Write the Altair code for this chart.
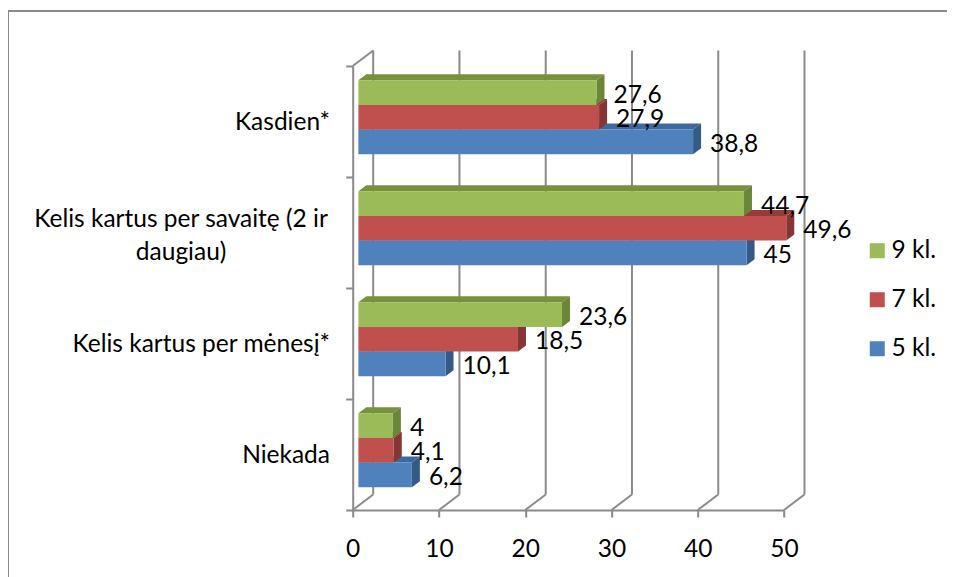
import altair as alt
import pandas as pd

FONT = "Lato"
FS = 24.5
categories = ["Niekada", "Kelis kartus per mėnesį*", "Kelis kartus per savaitę (2 ir\ndaugiau)", "Kasdien*"]
series = ["5 kl.", "7 kl.", "9 kl."]
v5 = [6.2, 10.1, 45, 38.8]
v7 = [4.1, 18.5, 49.6, 27.9]
v9 = [4, 23.6, 44.7, 27.6]
front = ["#4F81BD", "#C0504D", "#9BBB59"]
top_c = ["#3C6A9F", "#963C3A", "#76923C"]
side_c = ["#345A86", "#853634", "#6B8539"]
ticks = [0, 10, 20, 30, 40, 50]
GRID = "#8A8A8A"

PXX = 431.3 / 50
PXY = 111.0
bar_start = 5.7 / PXX
bar_h = 24.7 / PXY
bar_base = 22.7 / PXY
dx = 8 / PXX
dy = 6 / PXY
wall_dx = 20.5 / PXX
wall_dy = 15.5 / PXY

xs = alt.Scale(domain=[0, 50], nice=False, zero=False)
ys = alt.Scale(domain=[0, 4], nice=False, zero=False)
x_axis = alt.Axis(
    values=ticks, grid=False, domainColor=GRID, domainWidth=2, tickColor=GRID,
    tickWidth=2, tickSize=7, labelFontSize=FS, labelFont=FONT, labelColor="#000000",
    labelPadding=20, labelFlush=False, labelOverlap=False, title=None)
y_axis = alt.Axis(
    values=[0, 1, 2, 3, 4], grid=False, labels=False, domainColor=GRID, domainWidth=2,
    tickColor=GRID, tickWidth=2, tickSize=7, title=None)
X = lambda f: alt.X(f, type="quantitative", scale=xs, axis=x_axis)
Y = lambda f: alt.Y(f, type="quantitative", scale=ys, axis=y_axis, stack=None)

layers = []

# walls: diagonals and back gridlines
wall = pd.DataFrame({"x": ticks})
wall["xb"] = wall.x + wall_dx
wall["y0"] = 0.0
wall["yb"] = wall_dy
wall["ytop"] = 4 + wall_dy
layers.append(alt.Chart(wall).mark_rule(color=GRID, strokeWidth=2).encode(
    x=X("x"), x2="xb", y=Y("y0"), y2="yb"))
layers.append(alt.Chart(wall).mark_rule(color=GRID, strokeWidth=2).encode(
    x=X("xb"), y=Y("yb"), y2="ytop"))
corner = pd.DataFrame({"x": [0.0], "xb": [wall_dx], "y": [4.0], "yb": [4 + wall_dy]})
layers.append(alt.Chart(corner).mark_rule(color=GRID, strokeWidth=2).encode(
    x=X("x"), x2="xb", y=Y("y"), y2="yb"))

# bars, bottom series first so the upper one overlaps it
label_rows = []
for s, (name, vals) in enumerate(zip(series, [v5, v7, v9])):
    tops, sides, fronts = [], [], []
    for c, v in enumerate(vals):
        x0 = bar_start
        x1 = bar_start + v
        lo = c + bar_base + s * bar_h
        hi = lo + bar_h
        fronts.append({"series": name, "x0": x0, "x1": x1, "lo": lo, "hi": hi})
        sides += [
            {"c": c, "x": x1, "u": hi, "l": lo},
            {"c": c, "x": x1 + dx, "u": hi + dy, "l": lo + dy},
        ]
        tops += [
            {"c": c, "x": x0, "u": hi, "l": hi},
            {"c": c, "x": x0 + dx, "u": hi + dy, "l": hi},
            {"c": c, "x": x1, "u": hi + dy, "l": hi},
            {"c": c, "x": x1 + dx, "u": hi + dy, "l": hi + dy},
        ]
        label_rows.append({"x": x1, "y": (lo + hi) / 2, "t": str(v).replace(".", ",")})
    layers.append(alt.Chart(pd.DataFrame(tops)).mark_area(orient="vertical", color=top_c[s], interpolate="linear").encode(
        x=X("x"), y=Y("u"), y2="l", detail="c:N"))
    layers.append(alt.Chart(pd.DataFrame(sides)).mark_area(orient="vertical", color=side_c[s], interpolate="linear").encode(
        x=X("x"), y=Y("u"), y2="l", detail="c:N"))
    layers.append(alt.Chart(pd.DataFrame(fronts)).mark_rect().encode(
        x=X("x0"), x2="x1", y=Y("lo"), y2="hi",
        color=alt.Color("series:N", scale=alt.Scale(domain=series[::-1], range=front[::-1]),
                        legend=alt.Legend(
                            orient="none", legendX=865 - 352.7, legendY=238.5 - 66,
                            title=None, symbolType="square", symbolSize=225, symbolStrokeWidth=0,
                            symbolOpacity=1, labelFontSize=FS, labelFont=FONT, labelColor="#000000",
                            rowPadding=24, labelOffset=2, padding=0))))

# data labels
layers.append(alt.Chart(pd.DataFrame(label_rows)).mark_text(
    align="left", baseline="middle", dx=17, dy=3, fontSize=FS, font=FONT, color="#000000"
).encode(x=X("x"), y=Y("y"), text="t:N"))

# category labels
right_edge = (330 - 352.7) / PXX
cat = pd.DataFrame({"t": categories, "y": [0.5, 1.5, 2.5, 3.5]})
single = cat[~cat.t.str.contains("\n")].assign(x=right_edge)
multi = cat[cat.t.str.contains("\n")].assign(x=(181 - 352.7) / PXX)
layers.append(alt.Chart(single).mark_text(align="right", baseline="middle", dy=1.5, fontSize=FS, font=FONT, color="#000000").encode(
    x=X("x"), y=Y("y"), text="t:N"))
layers.append(alt.Chart(multi).mark_text(align="center", baseline="middle", dy=-13, lineBreak="\n", lineHeight=33, fontSize=FS, font=FONT, color="#000000").encode(
    x=X("x"), y=Y("y"), text="t:N"))

# outer chart frame, running off the page
frame_l = (8 - 352.7) / PXX
frame_r = (960 - 352.7) / PXX
frame_t = (510 - 11) / PXY
frame_b = (510 - 580) / PXY
frame = pd.DataFrame({"xl": [frame_l], "xr": [frame_r], "yt": [frame_t], "yb": [frame_b]})
layers.append(alt.Chart(frame).mark_rule(color=GRID, strokeWidth=2).encode(x=X("xl"), y=Y("yt"), y2="yb"))
layers.append(alt.Chart(frame).mark_rule(color=GRID, strokeWidth=2).encode(x=X("xl"), x2="xr", y=Y("yt")))

chart = alt.layer(*layers).properties(
    width=431.3, height=444,
    padding={"left": 344.7, "top": 58, "right": 163, "bottom": 67},
    autosize=alt.AutoSizeParams(type="none"),
    background="#FFFFFF",
).configure_view(strokeWidth=0)

chart.save("out.html", embed_options={"renderer": "svg", "actions": False})
